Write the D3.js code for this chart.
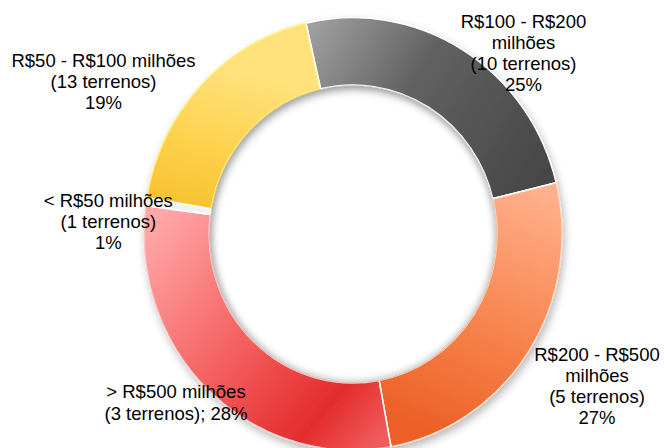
<!DOCTYPE html>
<html>
<head>
<meta charset="utf-8">
<script src="https://cdn.jsdelivr.net/npm/d3@7"></script>
<style>
  html, body { margin: 0; padding: 0; background: #fff; }
  svg { display: block; }
  text { font-family: "Liberation Sans", Arial, sans-serif; fill: #000; }
</style>
</head>
<body>
<svg id="chart" width="664" height="448"></svg>
<script>
// ---- data ----
const categories = ["R$100 - R$200 milhões", "R$200 - R$500 milhões", "> R$500 milhões", "< R$50 milhões", "R$50 - R$100 milhões"];
const terrenos = [10, 5, 3, 1, 13];
const shares = [24.8, 25.9, 30.0, 0.6, 18.7];   // slice sizes as drawn
const pctLabels = ["25%", "27%", "28%", "1%", "19%"];
const labelLines = [
  ["R$100 - R$200", "milhões", "(10 terrenos)", "25%"],
  ["R$200 - R$500", "milhões", "(5 terrenos)", "27%"],
  ["> R$500 milhões", "(3 terrenos); 28%"],
  ["< R$50 milhões", "(1 terrenos)", "1%"],
  ["R$50 - R$100 milhões", "(13 terrenos)", "19%"]
];

// ---- layout ----
const W = 664, H = 448;
const cx = 353, cy = 234, squash = 1.035;
const rOuter = 209, rInner = 144;
const deg = Math.PI / 180;
const startA = -13 * deg;

const labelPos = [
  {x: 523.5, y: 27.5},
  {x: 597, y: 360.7},
  {x: 176, y: 398.3},
  {x: 108.3, y: 206.7},
  {x: 103.5, y: 66.7}
];
const lineH = 21.2;

const gradDefs = [
  {x1: -53, y1: -207, x2: 187, y2: -52, stops: [[0, "#a6a6a6"], [0.45, "#616161"], [1, "#474747"]]},
  {x1: 187, y1: -43, x2: 87, y2: 199, stops: [[0, "#ffb08c"], [0.55, "#f7834c"], [1, "#ec5f26"]]},
  {x1: -193, y1: -14, x2: 37, y2: 189, stops: [[0, "#ffa6a6"], [0.45, "#f46060"], [0.8, "#e42c2c"], [1, "#f05c5c"]]},
  {x1: -200, y1: -30, x2: -200, y2: -40, stops: [[0, "#f2f2f2"], [1, "#cfcfcf"]]},
  {x1: -153, y1: -168, x2: -193, y2: -4, stops: [[0, "#ffe27c"], [0.5, "#fdd04a"], [1, "#f3bb22"]]}
];
const strokeCols = ["#ffffff", "#ffd9c2", "#ffd0d0", "#ffffff", "#fff07a"];

const svg = d3.select("#chart");
const defs = svg.append("defs");

const shadow = defs.append("filter").attr("id", "shadow")
  .attr("x", "-20%").attr("y", "-20%").attr("width", "140%").attr("height", "140%");
shadow.append("feDropShadow").attr("dx", 2).attr("dy", 4)
  .attr("stdDeviation", 4).attr("flood-color", "#000").attr("flood-opacity", 0.28);

const blur = defs.append("filter").attr("id", "blur")
  .attr("x", "-20%").attr("y", "-20%").attr("width", "140%").attr("height", "140%");
blur.append("feGaussianBlur").attr("stdDeviation", 3.5);

gradDefs.forEach((g, i) => {
  const lg = defs.append("linearGradient").attr("id", "g" + i)
    .attr("gradientUnits", "userSpaceOnUse")
    .attr("x1", g.x1).attr("y1", g.y1).attr("x2", g.x2).attr("y2", g.y2);
  g.stops.forEach(s => lg.append("stop").attr("offset", s[0]).attr("stop-color", s[1]));
});

defs.append("clipPath").attr("id", "hole")
  .append("circle").attr("r", rInner);

const pie = d3.pie().sort(null).value(d => d)
  .startAngle(startA).endAngle(startA + 2 * Math.PI);
const arc = d3.arc().innerRadius(rInner).outerRadius(rOuter);
const arcs = pie(shares);

const g = svg.append("g")
  .attr("transform", `translate(${cx},${cy}) scale(1,${squash})`);

const ring = g.append("g").attr("filter", "url(#shadow)");
ring.selectAll("path.slice")
  .data(arcs)
  .join("path")
  .attr("class", "slice")
  .attr("d", arc)
  .attr("fill", (d, i) => `url(#g${i})`)
  .attr("stroke", (d, i) => strokeCols[i])
  .attr("stroke-width", 1.3)
  .attr("stroke-linejoin", "round");

// separators between slices
ring.selectAll("line.sep")
  .data(arcs)
  .join("line")
  .attr("class", "sep")
  .attr("x1", d => rInner * Math.sin(d.startAngle))
  .attr("y1", d => -rInner * Math.cos(d.startAngle))
  .attr("x2", d => rOuter * Math.sin(d.startAngle))
  .attr("y2", d => -rOuter * Math.cos(d.startAngle))
  .attr("stroke", "#ffffff")
  .attr("stroke-width", 1.6)
  .attr("opacity", 0.9);

// soft inner shadow inside the hole
g.append("g").attr("clip-path", "url(#hole)")
  .append("circle")
  .attr("r", rInner + 1)
  .attr("fill", "none")
  .attr("stroke", "#000")
  .attr("stroke-opacity", 0.22)
  .attr("stroke-width", 6)
  .attr("filter", "url(#blur)");

// ---- labels ----
const labels = svg.append("g").attr("class", "labels");
labelLines.forEach((lines, i) => {
  const t = labels.append("text")
    .attr("x", labelPos[i].x)
    .attr("y", labelPos[i].y)
    .attr("text-anchor", "middle")
    .attr("font-size", 18.5);
  lines.forEach((ln, j) => {
    t.append("tspan")
      .attr("x", labelPos[i].x)
      .attr("y", labelPos[i].y + j * lineH)
      .text(ln);
  });
});
</script>
</body>
</html>
